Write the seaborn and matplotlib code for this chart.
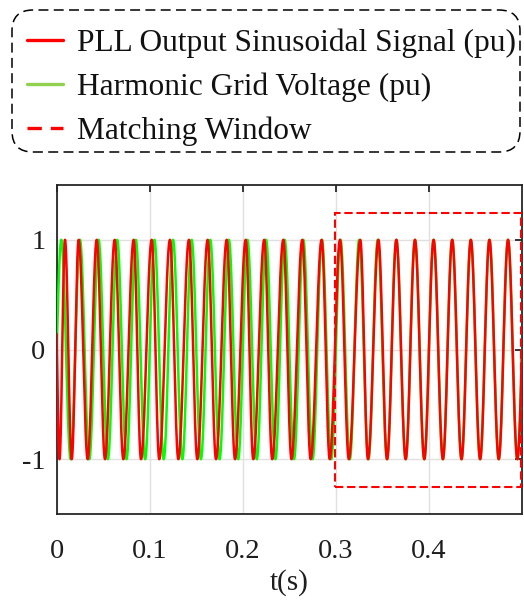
import numpy as np
import pandas as pd
import matplotlib
matplotlib.use("Agg")
import matplotlib.pyplot as plt
from matplotlib.lines import Line2D
from matplotlib.patches import Rectangle, FancyBboxPatch
import seaborn as sns

# ---- data -------------------------------------------------------------
# grid voltage: fundamental frequency (Hz) and amplitude (pu)
grid_freq = 50.0
grid_amp = 1.0

# PLL output turning points during the locking transient (s)
pll_peak_t = [-0.0025, 0.0089, 0.0236, 0.0430, 0.0623, 0.0827, 0.1021,
              0.1217, 0.1421, 0.1622, 0.1827, 0.2031, 0.2230, 0.2435,
              0.2639, 0.2847, 0.3044, 0.3262, 0.3457]
pll_trough_t = [0.0030, 0.0161, 0.0333, 0.0519, 0.0716, 0.0906, 0.1102,
                0.1307, 0.1511, 0.1712, 0.1916, 0.2112, 0.2316, 0.2523,
                0.2729, 0.2934, 0.3139, 0.3345, 0.3550]
pll_lock_t = 0.3550            # from here the PLL output follows the grid

# matching window (time span, pu span)
window_t = [0.299, 0.499]
window_v = [-1.25, 1.245]

x_ticks = [0, 0.1, 0.2, 0.3, 0.4]
x_tick_labels = ["0", "0.1", "0.2", "0.3", "0.4"]
y_ticks = [-1, 0, 1]
y_tick_labels = ["-1", "0", "1"]

legend_labels = ["PLL Output Sinusoidal Signal (pu)",
                 "Harmonic Grid Voltage (pu)",
                 "Matching Window"]

# ---- signals ------------------------------------------------------------
t = np.linspace(0, 0.5, 6001)
grid = grid_amp * np.sin(2 * np.pi * grid_freq * t)

ext_t = np.array(pll_peak_t + pll_trough_t)
ext_v = np.array([1.0] * len(pll_peak_t) + [-1.0] * len(pll_trough_t))
order = np.argsort(ext_t)
ext_t, ext_v = ext_t[order], ext_v[order]
idx = np.clip(np.searchsorted(ext_t, t, side="right") - 1, 0, len(ext_t) - 2)
frac = (t - ext_t[idx]) / (ext_t[idx + 1] - ext_t[idx])
pll = ext_v[idx] * np.cos(np.pi * frac)
pll = np.where(t >= pll_lock_t, grid, pll)

df = pd.DataFrame({"t": t, "grid": grid, "pll": pll})

# ---- figure -----------------------------------------------------------
sns.set_theme(style="white")
plt.rcParams["font.family"] = ["Liberation Serif", "DejaVu Serif"]

W, H = 524, 609
fig = plt.figure(figsize=(W / 100, H / 100), dpi=100)
ax = fig.add_axes([56.7 / W, 1 - 514 / H, (522 - 56.7) / W, (514 - 185) / H])

sns.lineplot(data=df, x="t", y="grid", ax=ax, color="#00ff00", lw=1.8,
             estimator=None, sort=False, zorder=3)
sns.lineplot(data=df, x="t", y="pll", ax=ax, color="#ff0000", lw=1.8,
             estimator=None, sort=False, zorder=4)

ax.add_patch(Rectangle((window_t[0], window_v[0]),
                       window_t[1] - window_t[0], window_v[1] - window_v[0],
                       fill=False, edgecolor="#ff0000", lw=1.5,
                       ls=(0, (4, 1.8)), zorder=5))

ax.set_xlim(0, 0.5)
ax.set_ylim(-1.5, 1.5)
ax.set_xticks(x_ticks, x_tick_labels)
ax.set_yticks(y_ticks, y_tick_labels)
ax.set_xlabel("t(s)", fontsize=21, color="#1e1e1e", labelpad=4)
ax.set_ylabel("")
ax.grid(True, color="#e0e0e0", lw=1.0, zorder=0)
ax.tick_params(axis="both", which="both", direction="in", length=5,
               width=1.3, top=True, right=True, colors="#262626",
               labelsize=20.5, labelcolor="#1e1e1e")
ax.tick_params(axis="x", pad=18)
ax.tick_params(axis="y", pad=8)
for s in ax.spines.values():
    s.set_visible(True)
    s.set_color("#262626")
    s.set_linewidth(1.3)

# ---- legend -------------------------------------------------------------
handles = [Line2D([], [], color="#ff0000", lw=2.4),
           Line2D([], [], color="#92d050", lw=2.4),
           Line2D([], [], color="#ff0000", lw=2.4, ls=(0, (4.3, 2.7)))]
leg = fig.legend(handles, legend_labels, loc="upper left",
                 bbox_to_anchor=(27 / W, 1 - 28 / H), frameon=False,
                 prop={"family": "Liberation Serif", "size": 22.6},
                 handlelength=1.15, handletextpad=0.45, labelspacing=0.47,
                 borderpad=0, borderaxespad=0)
for txt in leg.get_texts():
    txt.set_color("#111111")
box = FancyBboxPatch((12 / W, 1 - 152 / H), (520 - 12) / W, (152 - 10) / H,
                     boxstyle="round,pad=0,rounding_size=0.04",
                     transform=fig.transFigure, fill=False,
                     edgecolor="black", lw=1.1, ls=(0, (6.5, 3.5)),
                     mutation_aspect=W / H)
fig.patches.append(box)

fig.savefig("out.png", dpi=100)
